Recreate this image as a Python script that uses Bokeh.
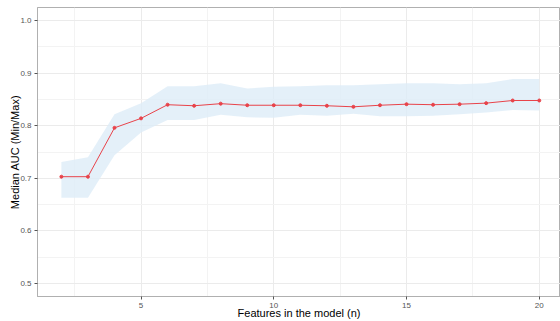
from bokeh.plotting import figure
from bokeh.models import ColumnDataSource, FixedTicker, Range1d, CustomJSTickFormatter
from bokeh.embed import file_html
from bokeh.resources import INLINE

n_features = [2, 3, 4, 5, 6, 7, 8, 9, 10, 11, 12, 13, 14, 15, 16, 17, 18, 19, 20]
median_auc = [0.703, 0.703, 0.796, 0.814, 0.840, 0.838, 0.842, 0.839, 0.839, 0.839,
              0.838, 0.836, 0.839, 0.841, 0.840, 0.841, 0.843, 0.848, 0.848]
max_auc = [0.731, 0.740, 0.822, 0.843, 0.875, 0.875, 0.881, 0.871, 0.874, 0.875,
           0.877, 0.877, 0.879, 0.881, 0.881, 0.879, 0.881, 0.889, 0.889]
min_auc = [0.663, 0.663, 0.744, 0.787, 0.811, 0.811, 0.821, 0.816, 0.815, 0.821,
           0.819, 0.823, 0.818, 0.818, 0.819, 0.822, 0.825, 0.830, 0.829]

x_ticks = [5, 10, 15, 20]
x_minor = [2.5, 7.5, 12.5, 17.5]
y_ticks = [0.5, 0.6, 0.7, 0.8, 0.9, 1.0]
y_minor = [0.55, 0.65, 0.75, 0.85, 0.95]

src = ColumnDataSource(dict(x=n_features, y=median_auc, lo=min_auc, hi=max_auc))

p = figure(width=560, height=321, output_backend="svg", toolbar_location=None,
           x_range=Range1d(1.1, 20.8), y_range=Range1d(0.475, 1.025),
           min_border_left=37, min_border_right=0, min_border_top=7, min_border_bottom=24)

p.varea(x="x", y1="lo", y2="hi", source=src, fill_color="#ddecf8", fill_alpha=0.8)
p.line(x="x", y="y", source=src, line_color="#e8434a", line_width=1)
p.scatter(x="x", y="y", source=src, size=3, fill_color="#e8434a", line_color="#e8434a")

p.xaxis.ticker = FixedTicker(ticks=x_ticks, minor_ticks=x_minor)
p.yaxis.ticker = FixedTicker(ticks=y_ticks, minor_ticks=y_minor)
p.yaxis.formatter = CustomJSTickFormatter(code="return tick.toFixed(1);")

for ax in (p.xaxis, p.yaxis):
    ax.axis_line_color = "#b0b0b0"
    ax.major_tick_line_color = "#555555"
    ax.major_tick_out = 3
    ax.major_tick_in = 0
    ax.minor_tick_line_color = None
    ax.major_label_text_font = "Liberation Sans"
    ax.major_label_text_font_size = "8px"
    ax.major_label_text_color = "#555555"
    ax.axis_label_text_font = "Liberation Sans"
    ax.axis_label_text_font_size = "11px"
    ax.axis_label_text_font_style = "normal"
    ax.axis_label_text_color = "#000000"
    ax.major_label_standoff = 2

p.xaxis.axis_label_standoff = -4
p.yaxis.axis_label_standoff = -4
p.xaxis.axis_label = "Features in the model (n)"
p.yaxis.axis_label = "Median AUC (Min/Max)"

p.grid.grid_line_color = "#ebebeb"
p.grid.grid_line_width = 1
p.grid.minor_grid_line_color = "#f3f3f3"
p.outline_line_color = "#b0b0b0"
p.background_fill_color = "white"
p.border_fill_color = "white"

open("out.html", "w").write(file_html(p, INLINE))
